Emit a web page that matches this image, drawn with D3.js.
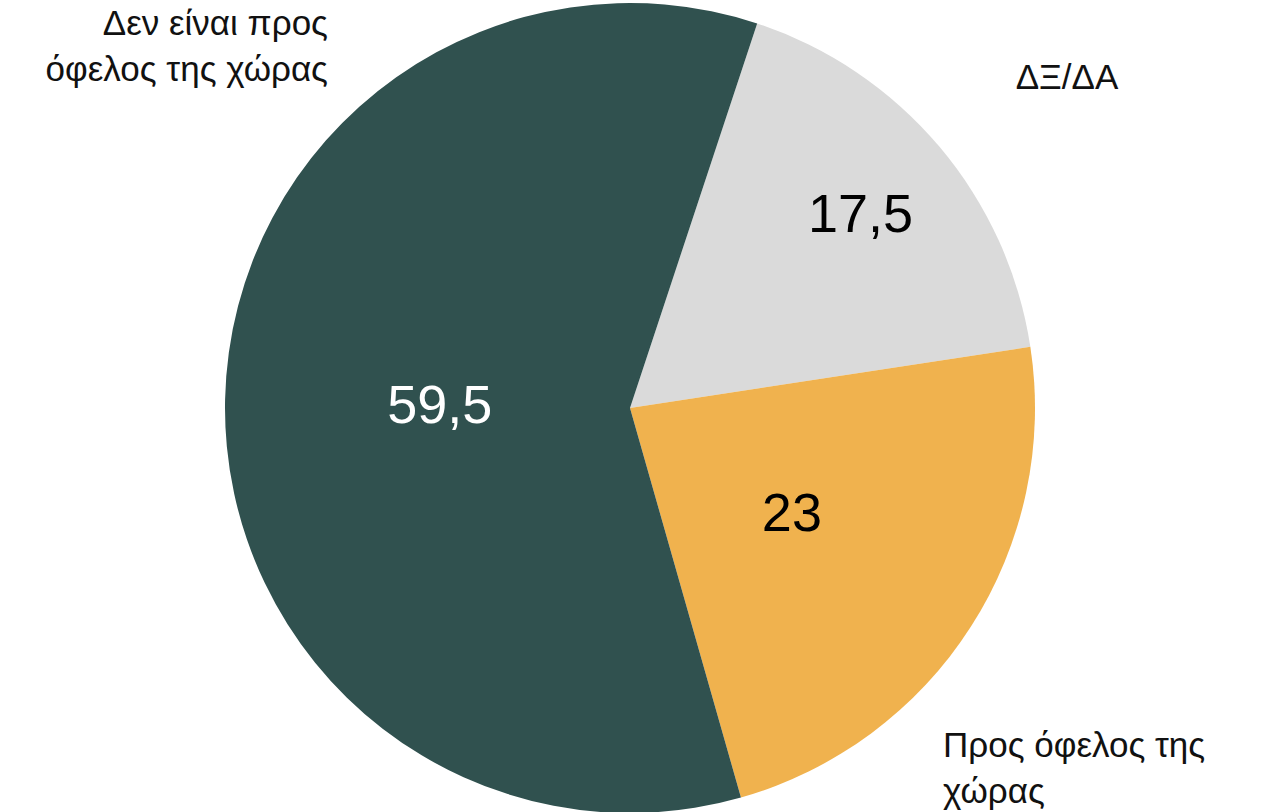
<!DOCTYPE html>
<html>
<head>
<meta charset="utf-8">
<script src="https://cdn.jsdelivr.net/npm/d3@7"></script>
<style>
html,body{margin:0;padding:0;background:#fff;}
svg{display:block;}
text{font-family:"Liberation Sans",Arial,Helvetica,sans-serif;}
</style>
</head>
<body>
<svg id="chart" width="1261" height="812"></svg>
<script>
// Data
const categories = ["ΔΞ/ΔΑ", "Προς όφελος της χώρας", "Δεν είναι προς όφελος της χώρας"];
const values = [17.5, 23, 59.5];
const valueLabels = ["17,5", "23", "59,5"];
const colors = ["#DADADA", "#F0B24E", "#30514F"];
const valueColors = ["#000", "#000", "#fff"];
const labelRadiusFrac = [0.745, 0.475, 0.47];
const categoryLines = [["ΔΞ/ΔΑ"], ["Προς όφελος της", "χώρας"], ["Δεν είναι προς", "όφελος της χώρας"]];

const W = 1261, H = 812;
const cx = 630, cy = 408, R = 405;
const start = 18.3 * Math.PI / 180;

const svg = d3.select("#chart");
const g = svg.append("g").attr("transform", `translate(${cx},${cy})`);

const pie = d3.pie().sort(null).value(d => d).startAngle(start).endAngle(start + 2 * Math.PI);
const arcs = pie(values);
const arc = d3.arc().innerRadius(0).outerRadius(R);

g.selectAll("path.slice").data(arcs).enter().append("path")
  .attr("class", "slice")
  .attr("d", arc)
  .attr("fill", (d, i) => colors[i]);

g.selectAll("text.val").data(arcs).enter().append("text")
  .attr("class", "val")
  .attr("transform", (d, i) => {
    const a = (d.startAngle + d.endAngle) / 2;
    const r = R * labelRadiusFrac[i];
    return `translate(${r * Math.sin(a)},${-r * Math.cos(a)})`;
  })
  .attr("text-anchor", "middle")
  .attr("dominant-baseline", "central")
  .attr("font-size", 54)
  .attr("fill", (d, i) => valueColors[i])
  .text((d, i) => valueLabels[i]);

// Category labels
const catPos = [
  {x: 1067, y: 89, anchor: "middle"},
  {x: 943, y: 757, anchor: "start"},
  {x: 328, y: 35, anchor: "end"}
];
const lineH = 46;
categoryLines.forEach((lines, i) => {
  const t = svg.append("text")
    .attr("x", catPos[i].x)
    .attr("y", catPos[i].y)
    .attr("text-anchor", catPos[i].anchor)
    .attr("font-size", 35)
    .attr("fill", "#111");
  lines.forEach((ln, j) => {
    t.append("tspan").attr("x", catPos[i].x).attr("y", catPos[i].y + j * lineH).text(ln);
  });
});
</script>
</body>
</html>
